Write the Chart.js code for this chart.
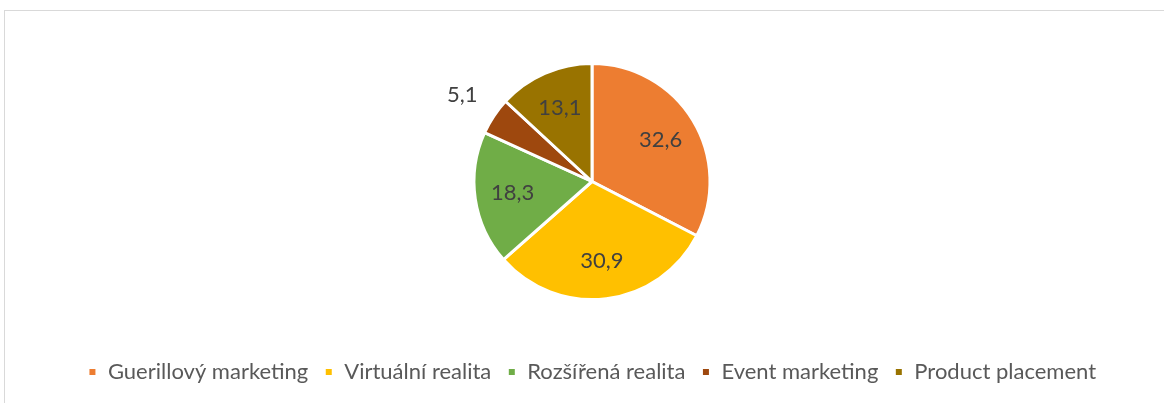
<!DOCTYPE html>
<html>
<head>
<meta charset="utf-8">
<script src="https://cdn.jsdelivr.net/npm/chart.js@4/dist/chart.umd.min.js"></script>
<style>
  html, body { margin: 0; padding: 0; background: #fff; overflow: hidden; }
  #frame { position: absolute; left: 4px; top: 10px; width: 1200px; height: 420px; border: 1px solid #d9d9d9; }
  #wrap { position: absolute; left: 0; top: 0; width: 1164px; height: 403px; }
</style>
</head>
<body>
<div id="frame"></div>
<div id="wrap"><canvas id="pieChart"></canvas></div>
<script>
// Data
const categories = ['Guerillový marketing', 'Virtuální realita', 'Rozšířená realita', 'Event marketing', 'Product placement'];
const shares = [32.6, 30.9, 18.3, 5.1, 13.1];
const sliceColors = ['#ED7D31', '#FFC000', '#70AD47', '#9E480E', '#997300'];

// labels inside slices, small slice gets its label outside
const sliceLabels = {
    id: 'sliceLabels',
    afterDatasetsDraw(chart) {
        const ctx = chart.ctx;
        const meta = chart.getDatasetMeta(0);
        ctx.save();
        ctx.font = '22px Lato, "Liberation Sans", sans-serif';
        ctx.fillStyle = '#404040';
        ctx.textAlign = 'center';
        ctx.textBaseline = 'middle';
        meta.data.forEach(function(arc, i) {
            const mid = (arc.startAngle + arc.endAngle) / 2;
            const dist = shares[i] < 8 ? arc.outerRadius * 1.32 : arc.outerRadius * 0.68;
            const x = arc.x + Math.cos(mid) * dist;
            const y = arc.y + Math.sin(mid) * dist;
            ctx.fillText(String(shares[i]).replace('.', ','), x, y);
        });
        ctx.restore();
    }
};

const ctx = document.getElementById('pieChart').getContext('2d');
const pieChart = new Chart(ctx, {
    type: 'pie',
    data: {
        labels: categories,
        datasets: [{
            data: shares,
            backgroundColor: sliceColors,
            borderColor: '#ffffff',
            borderWidth: 3,
            radius: 118
        }]
    },
    options: {
        responsive: true,
        maintainAspectRatio: false,
        animation: false,
        layout: {
            padding: { top: 18, left: 20, right: 0, bottom: 10 }
        },
        plugins: {
            tooltip: { enabled: false },
            legend: {
                position: 'bottom',
                labels: {
                    boxWidth: 9,
                    boxHeight: 9,
                    padding: 16,
                    color: '#595959',
                    font: { family: 'Lato, "Liberation Sans", sans-serif', size: 22 }
                }
            }
        }
    },
    plugins: [sliceLabels]
});
</script>
</body>
</html>
